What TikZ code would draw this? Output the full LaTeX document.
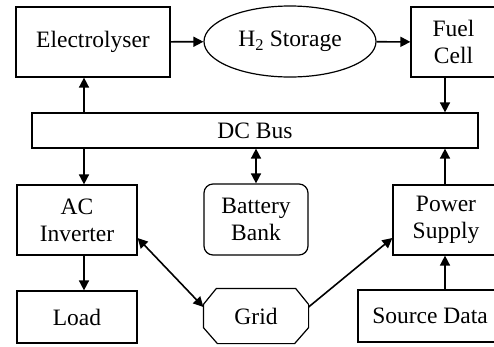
\documentclass[tikz,border=0pt]{standalone}
\usepackage{fontspec}
\setmainfont{Liberation Serif}
\usetikzlibrary{shapes.geometric,arrows.meta}
\begin{document}
\begin{tikzpicture}[x=1pt,y=-1pt,
  box/.style={draw,line width=1.2pt,rectangle,inner sep=0pt,align=center,
    font=\fontsize{23.5}{27}\selectfont},
  arr/.style={line width=1.6pt,-{Triangle[length=10pt,width=10pt]}},
  darr/.style={line width=1.6pt,{Triangle[length=10pt,width=10pt]}-{Triangle[length=10pt,width=10pt]}}]
\useasboundingbox (0,0) rectangle (494,346);
\node[box,minimum width=154pt,minimum height=70pt] (elec) at (93,42) {Electrolyser};
\node[box,ellipse,minimum width=172pt,minimum height=71pt] (h2) at (290,41.5) {H\textsubscript{2} Storage};
\node[box,minimum width=85pt,minimum height=70pt] (fuel) at (453.5,42) {Fuel\\Cell};
\node[box,minimum width=446pt,minimum height=35pt] (bus) at (255,130.5) {DC Bus};
\node[box,minimum width=120pt,minimum height=70pt] (inv) at (77,220) {AC\\Inverter};
\node[box,minimum width=120pt,minimum height=52pt] (load) at (77,317) {Load};
\node[box,rounded corners=9pt,minimum width=104pt,minimum height=71pt] (bat) at (256,219.5) {Battery\\Bank};
\node[box,draw=none,minimum width=104pt,minimum height=54pt] (grid) at (256,316) {Grid};
\draw[line width=1.2pt] ([xshift=13pt]grid.north west) -- ([xshift=-13pt]grid.north east)
  -- ([yshift=-16pt]grid.north east) -- ([yshift=16pt]grid.south east)
  -- ([xshift=-14pt]grid.south east) -- ([xshift=14pt]grid.south west)
  -- ([yshift=16pt]grid.south west) -- ([yshift=-16pt]grid.north west) -- cycle;
\node[box,minimum width=106pt,minimum height=70pt] (ps) at (446,220) {Power\\Supply};
\node[box,minimum width=144pt,minimum height=52pt] (src) at (430,316) {Source Data};
\coordinate (xl) at (84,0);
\coordinate (xr) at (445,0);
\draw[arr] (elec) -- (h2);
\draw[arr] (h2) -- (fuel);
\draw[arr] (xl |- bus.north) -- (xl |- elec.south);
\draw[arr] (xl |- bus.south) -- (xl |- inv.north);
\draw[arr] (xl |- inv.south) -- (xl |- load.north);
\draw[darr] (bat.north) -- (bat.north |- bus.south);
\draw[arr] (xr |- fuel.south) -- (xr |- bus.north);
\draw[arr] (xr |- ps.north) -- (xr |- bus.south);
\draw[arr] (xr |- src.north) -- (xr |- ps.south);
\draw[darr] ([yshift=-18pt]inv.east) -- ([yshift=9pt]grid.west);
\draw[arr] ([yshift=9pt]grid.east) -- ([yshift=-18pt]ps.west);
\end{tikzpicture}
\end{document}
